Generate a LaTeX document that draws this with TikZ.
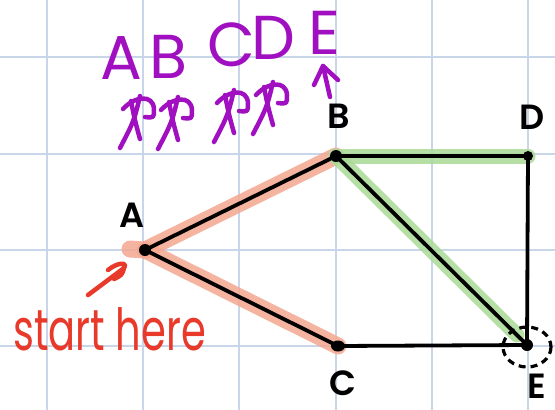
\documentclass[tikz,border=0pt]{standalone}
\usepackage{fontspec}
\usetikzlibrary{shapes.geometric}
\setmainfont{Poppins}[BoldFont=Poppins SemiBold]
\begin{document}
\begin{tikzpicture}[x=1pt,y=-1pt,
  gridline/.style={draw=gridblue,line width=1.5pt},
  edge/.style={draw=black,line width=3.8pt,line cap=round},
  hlred/.style={draw=hlsalmon,line width=17pt,line cap=round,opacity=0.85},
  hlgreen/.style={draw=hlgreen,line width=15pt,line cap=round,opacity=0.85},
  dot/.style={circle,fill=black,inner sep=0pt,minimum size=12pt},
  vlabel/.style={font=\fontsize{35}{35}\selectfont\bfseries,text=black,inner sep=0pt},
  plabel/.style={font=\fontsize{62}{62}\selectfont,text=purp,inner sep=0pt},
  pstroke/.style={draw=purp,line width=4.5pt,line cap=round,line join=round},
  rstroke/.style={draw=redhand,line width=4.5pt,line cap=round,line join=round}]
\definecolor{gridblue}{HTML}{C9D5E8}
\definecolor{hlsalmon}{HTML}{F4A890}
\definecolor{hlgreen}{HTML}{A9DA96}
\definecolor{purp}{HTML}{A010C0}
\definecolor{redhand}{HTML}{E8392A}
\useasboundingbox (0,0) rectangle (555,410);
\fill[white] (0,0) rectangle (555,410);
% grid
\foreach \x in {47,143,239,336,432,528} \draw[gridline] (\x,0) -- (\x,410);
\foreach \y in {57,154,250,346} \draw[gridline] (0,\y) -- (555,\y);
% vertices
\coordinate (A) at (145,250);
\coordinate (B) at (336,156);
\coordinate (C) at (338,346);
\coordinate (D) at (528,156);
\coordinate (E) at (527,345);
% highlights
\draw[hlred] (130,249) -- (A) -- (B);
\draw[hlred] (A) -- (C);
\draw[hlgreen] (B) -- (D);
\draw[hlgreen] (B) -- (517,335);
% edges
\draw[edge] (A) -- (B) -- (D) -- (E) -- (C) -- (A);
\draw[edge] (B) -- (E);
\node[dot] (nA) at (A) {};
\node[dot] (nB) at (B) {};
\node[ellipse,fill=black,inner sep=0pt,minimum width=14pt,minimum height=11pt] (nC) at (C) {};
\node[dot,minimum size=10pt] (nD) at (D) {};
\node[dot] (nE) at (E) {};
\draw[black,line width=3.2pt,dash pattern=on 7pt off 5pt] (527,347) ellipse (24 and 20);
% vertex labels
\node[vlabel] (lA) at (132,215) {A};
\node[vlabel] (lB) at (339,116) {B};
\node[vlabel] (lD) at (532,117) {D};
\node[vlabel] (lC) at (343,383) {C};
\node[vlabel] (lE) at (537,386) {E};
% purple letters
\node[plabel] (pA) at (121,58) {A};
\node[plabel] (pB) at (169,57) {B};
\node[plabel] (pC) at (231,45) {C};
\node[plabel] (pD) at (273,38) {D};
\node[plabel] (pE) at (324,33) {E};
% crossed marks
\foreach \cx/\cy in {137/118,175/119,231/112,270/104}{
  \draw[pstroke] (\cx+3,\cy-22) .. controls (\cx-3,\cy+3) .. (\cx-17,\cy+30);
  \draw[pstroke] (\cx-6,\cy-17) .. controls (\cx-2,\cy+3) .. (\cx+3,\cy+21);
  \draw[pstroke] (\cx-14,\cy-9) .. controls (\cx-2,\cy-22) and (\cx+16,\cy-24) .. (\cx+17,\cy-9) .. controls (\cx+17,\cy) .. (\cx+8,\cy-1);
}
% up arrow under E
\draw[pstroke] (330,97) -- (323,66);
\draw[pstroke] (314,85) -- (323,66) -- (338,80);
% start here
\node[font=\fontsize{40}{40}\selectfont,text=redhand,inner sep=0pt,anchor=base west] (start) at (13,350) {\scalebox{1}[1.45]{start here}};
\coordinate (arrowtail) at (88,295);
\coordinate (arrowtip) at (124,268);
\draw[rstroke] (arrowtail) -- (arrowtip);
\draw[rstroke] (108,270) .. controls (118,262) and (128,262) .. (arrowtip) .. controls (122,275) .. (114,279);
\end{tikzpicture}
\end{document}
